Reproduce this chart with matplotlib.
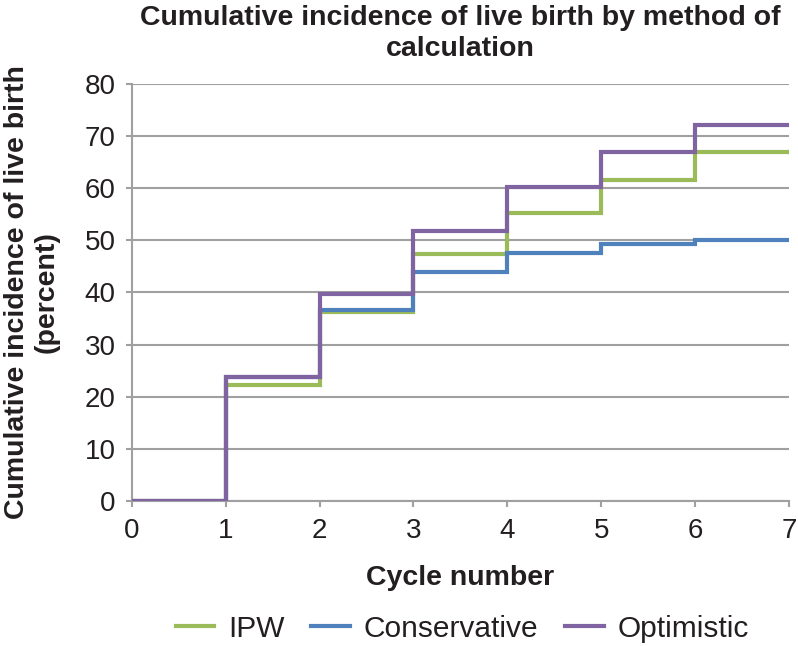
import matplotlib
matplotlib.use("Agg")
import matplotlib.pyplot as plt

plt.rcParams['font.family'] = ['Liberation Sans', 'DejaVu Sans']

cycles = [0, 1, 2, 3, 4, 5, 6, 7]
ipw = [0, 22.2, 36.3, 47.4, 55.2, 61.6, 66.9, 66.9]
conservative = [0, 23.8, 36.7, 44.0, 47.5, 49.3, 50.1, 50.1]
optimistic = [0, 23.8, 39.7, 51.7, 60.3, 66.9, 72.1, 72.1]

series = [
    ("IPW", ipw, "#9BBB59"),
    ("Conservative", conservative, "#4F81BD"),
    ("Optimistic", optimistic, "#8064A2"),
]

txt = '#231F20'

fig = plt.figure(figsize=(7.98, 6.46), dpi=100)
ax = fig.add_axes([0.165, 0.2245, 0.824, 0.6455])

for name, vals, col in series:
    ax.step(cycles, vals, where='post', color=col, lw=3, label=name,
            solid_joinstyle='miter', zorder=3)

ax.set_xlim(0, 7)
ax.set_ylim(0, 80)
ax.set_xticks(range(0, 8))
ax.set_yticks(range(0, 81, 10))
ax.yaxis.grid(True, color='#A0A0A0', lw=1.5)
ax.set_axisbelow(True)
for s in ['top', 'right']:
    ax.spines[s].set_visible(False)
for s in ['left', 'bottom']:
    ax.spines[s].set_color('#A0A0A0')
    ax.spines[s].set_linewidth(1.5)
ax.tick_params(axis='both', colors='#A0A0A0', width=1.5, length=4.5,
               labelsize=20, labelcolor=txt)
ax.tick_params(axis='y', pad=7)
ax.tick_params(axis='x', pad=8)

ax.set_title("Cumulative incidence of live birth by method of\ncalculation",
             fontsize=20.5, fontweight='bold', color=txt, pad=20,
             linespacing=1.25)
ax.set_xlabel("Cycle number", fontsize=20.5, fontweight='bold',
              color=txt, labelpad=15)
ax.set_ylabel("Cumulative incidence of live birth\n(percent)", fontsize=20.5,
              fontweight='bold', color=txt, linespacing=1.15)
ax.yaxis.set_label_coords(-0.11, 0.5)

fig.legend(loc='center', bbox_to_anchor=(0.579, 0.027), ncol=3,
           frameon=False, fontsize=21.5, handlelength=1.3, columnspacing=0.9,
           handletextpad=0.45, labelcolor=txt)

fig.savefig("out.png", dpi=100)
